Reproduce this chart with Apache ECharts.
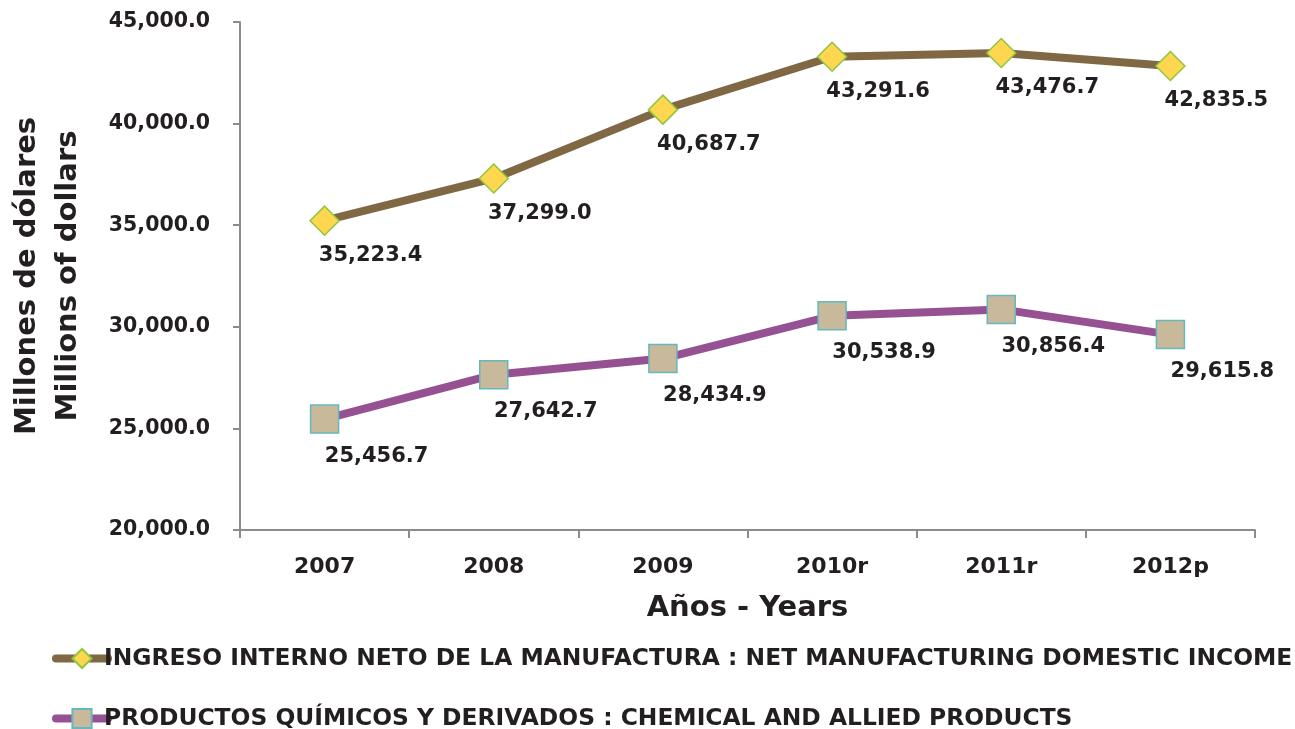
<!DOCTYPE html>
<html>
<head>
<meta charset="utf-8">
<script src="https://cdn.jsdelivr.net/npm/echarts@6/dist/echarts.min.js"></script>
<style>
  html, body { margin: 0; padding: 0; background: #fff; }
  #chart { width: 1295px; height: 729px; }
</style>
</head>
<body>
<div id="chart"></div>
<script>
  // datos
  const years = ['2007', '2008', '2009', '2010r', '2011r', '2012p'];
  const netManufacturing = [35223.4, 37299.0, 40687.7, 43291.6, 43476.7, 42835.5];
  const chemicalProducts = [25456.7, 27642.7, 28434.9, 30538.9, 30856.4, 29615.8];
  const yTicks = [20000, 25000, 30000, 35000, 40000, 45000];
  const seriesNames = [
    'INGRESO INTERNO NETO DE LA MANUFACTURA : NET MANUFACTURING DOMESTIC INCOME',
    'PRODUCTOS QUÍMICOS Y DERIVADOS : CHEMICAL AND ALLIED PRODUCTS'
  ];

  const FONT = '"DejaVu Sans", sans-serif';
  const TXT = '#231f20';

  function fmt(v) {
    return v.toLocaleString('en-US', { minimumFractionDigits: 1, maximumFractionDigits: 1 });
  }

  function legendFor(name, top) {
    return {
      left: 47,
      top: top,
      itemWidth: 52,
      itemHeight: 24,
      lineStyle: { width: 8, cap: 'round' },
      textStyle: { fontFamily: FONT, fontSize: 23.4, fontWeight: 'bold', color: TXT, padding: [0, 0, 0, -9] },
      data: [name]
    };
  }

  const myChart = echarts.init(document.getElementById('chart'));

  const option = {
    animation: false,
    textStyle: { fontFamily: FONT },
    grid: { left: 240, right: 40, top: 22, bottom: 199, containLabel: false, outerBoundsMode: 'none' },
    legend: [legendFor(seriesNames[0], 642), legendFor(seriesNames[1], 702)],
    xAxis: {
      type: 'category',
      data: years,
      boundaryGap: true,
      name: 'Años - Years',
      nameLocation: 'middle',
      nameGap: 64,
      nameTextStyle: { fontFamily: FONT, fontSize: 29, fontWeight: 'bold', color: TXT },
      axisLine: { lineStyle: { color: '#8c8c8c', width: 2 } },
      axisTick: { show: true, alignWithLabel: false, length: 8, lineStyle: { color: '#8c8c8c', width: 2 } },
      axisLabel: { fontFamily: FONT, fontSize: 22, fontWeight: 'bold', color: TXT, margin: 26 },
      splitLine: { show: false }
    },
    yAxis: {
      type: 'value',
      min: yTicks[0],
      max: yTicks[yTicks.length - 1],
      interval: 5000,
      name: 'Millones de dólares\nMillions of dollars',
      nameLocation: 'middle',
      nameRotate: 90,
      nameGap: 151,
      nameTextStyle: { fontFamily: FONT, fontSize: 29, fontWeight: 'bold', color: TXT, lineHeight: 41 },
      axisLine: { show: true, lineStyle: { color: '#8c8c8c', width: 2 } },
      axisTick: { show: true, length: 7, lineStyle: { color: '#8c8c8c', width: 2 } },
      axisLabel: { fontFamily: FONT, fontSize: 20.5, fontWeight: 'bold', color: TXT, margin: 30, formatter: v => fmt(v) },
      splitLine: { show: false }
    },
    series: [
      {
        name: seriesNames[0],
        type: 'line',
        data: netManufacturing,
        symbol: 'diamond',
        symbolSize: 29,
        lineStyle: { color: '#7f6843', width: 8 },
        itemStyle: { color: '#ffd64f', borderColor: '#8dc63f', borderWidth: 1.5 },
        label: {
          show: true,
          position: 'inside',
          offset: [46, 35],
          fontFamily: FONT,
          fontSize: 21,
          fontWeight: 'bold',
          color: TXT,
          formatter: p => fmt(p.value)
        },
        z: 3
      },
      {
        name: seriesNames[1],
        type: 'line',
        data: chemicalProducts,
        symbol: 'rect',
        symbolSize: 28,
        lineStyle: { color: '#955192', width: 8 },
        itemStyle: { color: '#c9b99b', borderColor: '#66b8bf', borderWidth: 1.5 },
        label: {
          show: true,
          position: 'inside',
          offset: [52, 37],
          fontFamily: FONT,
          fontSize: 21,
          fontWeight: 'bold',
          color: TXT,
          formatter: p => fmt(p.value)
        },
        z: 3
      }
    ]
  };

  myChart.setOption(option);
</script>
</body>
</html>
